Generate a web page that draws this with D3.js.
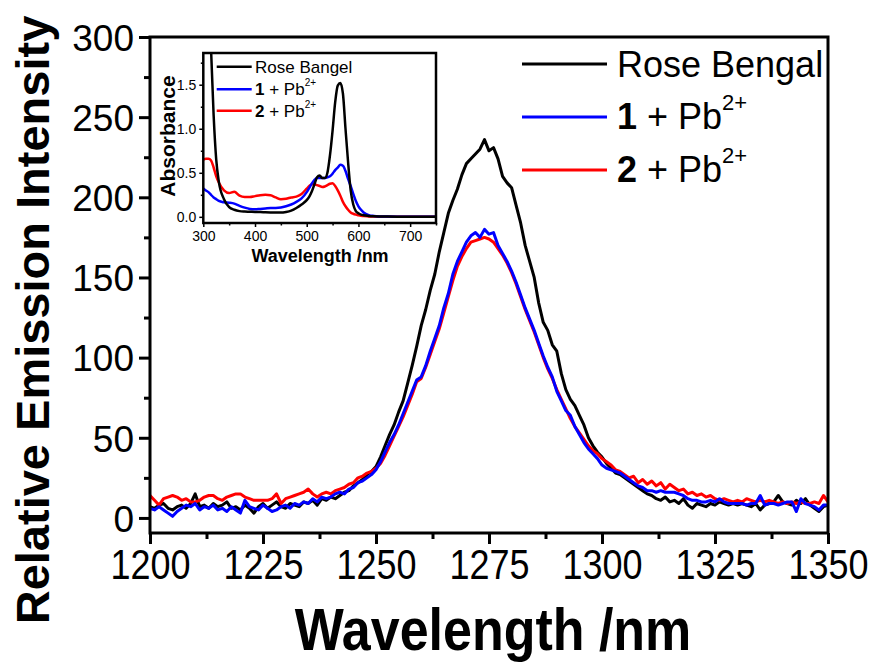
<!DOCTYPE html>
<html>
<head>
<meta charset="utf-8">
<script src="https://cdn.jsdelivr.net/npm/d3@7/dist/d3.min.js"></script>
<style>
  html, body { margin: 0; padding: 0; background: #fff; }
  svg { display: block; font-family: "Liberation Sans", Arial, sans-serif; }
</style>
</head>
<body>
<svg id="chart" width="879" height="663"></svg>
<script>
// ---- Emission spectra (1 nm steps, 1200–1350 nm) ----
const emissionWavelengths = d3.range(1200, 1351, 1);

const roseBengal = [
  7, 6, 8, 9, 6, 5, 7, 8, 6, 9,
  15, 7, 8, 6, 9, 7, 8, 10, 6, 7,
  5, 8, 6, 3, 7, 9, 6, 8, 10, 7,
  6, 9, 8, 7, 10, 9, 11, 8, 12, 11,
  13, 12, 14, 16, 17, 20, 22, 24, 27, 29,
  32, 38, 45, 52, 58, 66, 73, 84, 95, 107,
  120, 130, 142, 152, 166, 178, 190, 198, 205, 214,
  221, 224, 227, 230, 236, 229, 231, 224, 213, 209,
  206, 195, 184, 170, 160, 150, 134, 122, 117, 108,
  104, 90, 80, 74, 70, 64, 58, 50, 45, 41,
  38, 34, 31, 28, 27, 25, 23, 21, 19, 17,
  15, 14, 12, 11, 13, 10, 11, 9, 12, 8,
  6, 9, 8, 7, 9, 8, 10, 9, 8, 9,
  8, 9, 8, 7, 9, 5, 8, 9, 10, 14,
  10, 9, 8, 11, 9, 12, 8, 6, 4, 7,
  8
];

const compound1Pb = [
  6, 5, 7, 5, 3, 1, 4, 6, 8, 7,
  9, 5, 7, 6, 8, 5, 6, 4, 7, 5,
  3, 11, 7, 6, 5, 8, 6, 4, 5, 7,
  8, 6, 9, 8, 10, 9, 12, 10, 13, 12,
  13, 15, 16, 15, 18, 19, 22, 23, 25, 27,
  30, 35, 41, 47, 52, 58, 65, 72, 79, 86,
  88, 95, 104, 112, 120, 131, 140, 152, 160, 166,
  172, 176, 178, 175, 180, 177, 178, 170, 165, 160,
  154, 147, 139, 131, 124, 117, 109, 101, 94, 88,
  79, 73, 67, 64, 57, 52, 47, 43, 40, 37,
  33, 31, 30, 29, 28, 26, 24, 22, 20, 19,
  17, 17, 16, 17, 16, 16, 16, 15, 14, 12,
  11, 11, 10, 10, 11, 10, 12, 10, 9, 9,
  9, 9, 8, 9, 9, 14, 8, 9, 9, 8,
  9, 10, 10, 4, 12, 9, 8, 7, 5, 8,
  8
];

const compound2Pb = [
  14, 11, 8, 12, 13, 14, 13, 11, 12, 10,
  10, 11, 13, 14, 14, 12, 11, 13, 14, 15,
  15, 13, 12, 11, 11, 11, 11, 12, 15, 9,
  12, 13, 14, 15, 16, 18, 15, 13, 15, 16,
  15, 17, 18, 19, 21, 22, 25, 26, 28, 29,
  31, 34, 39, 45, 51, 57, 63, 70, 77, 85,
  87, 94, 102, 110, 118, 128, 138, 148, 157, 163,
  168, 172, 173, 174, 175, 174, 172, 168, 164, 159,
  153, 146, 138, 130, 123, 116, 108, 100, 93, 87,
  80, 74, 68, 62, 57, 53, 49, 45, 42, 40,
  37, 35, 33, 30, 29, 27, 25, 26, 22, 24,
  21, 23, 20, 22, 18, 21, 19, 17, 18, 15,
  16, 14, 15, 13, 14, 12, 11, 12, 11, 10,
  11, 10, 12, 11, 10, 11, 10, 11, 10, 9,
  10, 9, 10, 9, 10, 9, 9, 10, 9, 14,
  10
];

const mainXTicks = [1200, 1225, 1250, 1275, 1300, 1325, 1350];
const mainYTicks = [0, 50, 100, 150, 200, 250, 300];

// ---- Absorption spectra (inset) ----
const absWavelengths = [300, 305, 310, 315, 320, 325, 330, 340, 350, 360, 370, 380, 390, 400,
  410, 420, 430, 440, 450, 460, 470, 480, 490, 500, 505, 510, 515, 520, 525, 530, 535, 540,
  545, 550, 555, 560, 565, 570, 575, 580, 585, 590, 595, 600, 605, 610, 620, 630, 640, 650,
  675, 700, 725, 750];

const absRoseBengal = [4.0, 3.2, 2.5, 1.9, 1.15, 0.65, 0.4, 0.2, 0.11, 0.08, 0.065, 0.06, 0.058, 0.055,
  0.055, 0.052, 0.05, 0.048, 0.048, 0.055, 0.07, 0.1, 0.14, 0.19, 0.23, 0.29, 0.37, 0.45, 0.47, 0.44, 0.44, 0.5,
  0.7, 0.98, 1.3, 1.49, 1.52, 1.4, 1.0, 0.62, 0.3, 0.14, 0.065, 0.04, 0.025, 0.018, 0.01, 0.006, 0.004, 0.003,
  0.002, 0.001, 0.001, 0.001];

const abs1Pb = [0.32, 0.30, 0.28, 0.25, 0.22, 0.2, 0.18, 0.165, 0.16, 0.15, 0.125, 0.105, 0.09, 0.085,
  0.09, 0.095, 0.1, 0.1, 0.105, 0.12, 0.14, 0.17, 0.21, 0.28, 0.33, 0.38, 0.42, 0.44, 0.44, 0.44, 0.44, 0.45,
  0.46, 0.49, 0.53, 0.56, 0.59, 0.58, 0.52, 0.43, 0.35, 0.26, 0.18, 0.12, 0.08, 0.05, 0.02, 0.01, 0.005, 0.003,
  0.002, 0.001, 0.001, 0.001];

const abs2Pb = [0.65, 0.66, 0.66, 0.64, 0.56, 0.46, 0.39, 0.3, 0.27, 0.285, 0.24, 0.225, 0.225, 0.235,
  0.245, 0.25, 0.245, 0.22, 0.2, 0.205, 0.22, 0.23, 0.26, 0.32, 0.35, 0.37, 0.37, 0.36, 0.35, 0.34, 0.345, 0.36,
  0.375, 0.38, 0.35, 0.3, 0.24, 0.17, 0.12, 0.08, 0.05, 0.035, 0.025, 0.018, 0.012, 0.008, 0.005, 0.003, 0.002, 0.001,
  0.001, 0.001, 0.001, 0.001];

const insetXTicks = [300, 400, 500, 600, 700];
const insetYTicks = [0, 0.5, 1.0, 1.5];

const seriesNames = ["Rose Bengal", "1 + Pb2+", "2 + Pb2+"];
const seriesColors = ["#000000", "#0000ff", "#ff0000"];

// ---------------------------------------------------------------
const svg = d3.select("#chart");

const x = d3.scaleLinear().domain([1200, 1350]).range([150, 828]);
const y = d3.scaleLinear().domain([-9.4, 300]).range([533, 37]);

// text drawn slightly taller than wide, like the exported figure
function stretchedText(parent, px, py, k) {
  return parent.append("text").attr("transform", `translate(${px},${py}) scale(1,${k})`);
}

// clip region for the main plot
svg.append("defs").append("clipPath").attr("id", "mainClip")
  .append("rect").attr("x", 150).attr("y", 37).attr("width", 678).attr("height", 496);

// main data lines
const mainLine = d3.line()
  .x((d, i) => x(emissionWavelengths[i]))
  .y(d => y(d));

const mainSeries = [roseBengal, compound1Pb, compound2Pb];
// black first, then red, blue on top
[0, 2, 1].forEach(k => {
  svg.append("path")
    .attr("clip-path", "url(#mainClip)")
    .attr("d", mainLine(mainSeries[k]))
    .attr("fill", "none")
    .attr("stroke", seriesColors[k])
    .attr("stroke-width", 3)
    .attr("stroke-linejoin", "round");
});

// axes
const axisG = svg.append("g");
const xLabelK = 1.2;
const bottomMajor = d3.axisBottom(x).tickValues(mainXTicks).tickSize(11).tickSizeOuter(0).tickFormat(d3.format("d"));
const bottomMinor = d3.axisBottom(x).tickValues(d3.range(1212.5, 1350, 25)).tickSize(6).tickSizeOuter(0).tickFormat("");
const leftMajor = d3.axisLeft(y).tickValues(mainYTicks).tickSize(11).tickSizeOuter(0).tickPadding(5).tickFormat(d3.format("d"));
const leftMinor = d3.axisLeft(y).tickValues(d3.range(25, 300, 50)).tickSize(6).tickSizeOuter(0).tickFormat("");

function styleAxis(g) {
  g.select(".domain").remove();
  g.selectAll(".tick line").attr("stroke", "#000").attr("stroke-width", 3);
  g.selectAll(".tick text").attr("fill", "#000");
}

axisG.append("g").attr("transform", "translate(0,533)").call(bottomMinor).call(styleAxis);
axisG.append("g").attr("transform", "translate(0,533)").call(bottomMajor).call(styleAxis)
  .selectAll(".tick text")
  .attr("font-size", 36)
  .attr("dy", 0)
  .attr("y", 46 / xLabelK)
  .attr("transform", `scale(1,${xLabelK})`);
axisG.append("g").attr("transform", "translate(150,0)").call(leftMinor).call(styleAxis);
axisG.append("g").attr("transform", "translate(150,0)").call(leftMajor).call(styleAxis)
  .selectAll(".tick text").attr("font-size", 37).attr("dy", "0.36em");

// frame
svg.append("rect")
  .attr("x", 150).attr("y", 37).attr("width", 678).attr("height", 496)
  .attr("fill", "none").attr("stroke", "#000").attr("stroke-width", 3);

// axis titles
stretchedText(svg, 493, 650, 1.15)
  .attr("text-anchor", "middle")
  .attr("font-size", 52).attr("font-weight", "bold")
  .text("Wavelength /nm");

svg.append("text")
  .attr("transform", "translate(49,320) rotate(-90)")
  .attr("text-anchor", "middle")
  .attr("font-size", 47).attr("font-weight", "bold")
  .text("Relative Emission Intensity");

// legend
const legend = svg.append("g");
const legendRows = [
  { y: 64, base: 77 },
  { y: 117, base: 129 },
  { y: 170, base: 182 }
];
legendRows.forEach((r, k) => {
  legend.append("line")
    .attr("x1", 522).attr("x2", 607).attr("y1", r.y).attr("y2", r.y)
    .attr("stroke", seriesColors[k]).attr("stroke-width", 3);
  const t = legend.append("text").attr("x", 617).attr("y", r.base).attr("font-size", 36);
  if (k === 0) {
    t.text(seriesNames[0]);
  } else {
    t.append("tspan").attr("font-weight", "bold").text(String(k));
    t.append("tspan").text(" + Pb");
    t.append("tspan").attr("font-size", 22).attr("dy", -19).text("2+");
  }
});

// ---- inset: absorption spectra ----
const ix = d3.scaleLinear().domain([300, 750]).range([203.3, 436]);
const iy = d3.scaleLinear().domain([-0.07, 1.86]).range([223, 53]);

const inset = svg.append("g");
inset.append("rect")
  .attr("x", 203.3).attr("y", 53).attr("width", 232.7).attr("height", 170)
  .attr("fill", "#fff");

svg.select("defs").append("clipPath").attr("id", "insetClip")
  .append("rect").attr("x", 203.3).attr("y", 53).attr("width", 232.7).attr("height", 170);

const insetLine = d3.line()
  .x((d, i) => ix(absWavelengths[i]))
  .y(d => iy(d))
  .curve(d3.curveMonotoneX);

const insetSeries = [absRoseBengal, abs1Pb, abs2Pb];
[2, 1, 0].forEach(k => {
  inset.append("path")
    .attr("clip-path", "url(#insetClip)")
    .attr("d", insetLine(insetSeries[k]))
    .attr("fill", "none")
    .attr("stroke", seriesColors[k])
    .attr("stroke-width", 2.5)
    .attr("stroke-linejoin", "round");
});

function styleInsetAxis(g) {
  g.select(".domain").remove();
  g.selectAll(".tick line").attr("stroke", "#000").attr("stroke-width", 1.5);
  g.selectAll(".tick text").attr("fill", "#000").attr("font-size", 14);
}

inset.append("g").attr("transform", "translate(0,223)")
  .call(d3.axisBottom(ix).tickValues(d3.range(350, 751, 100)).tickSize(2.5).tickSizeOuter(0).tickFormat(""))
  .call(styleInsetAxis);
inset.append("g").attr("transform", "translate(0,223)")
  .call(d3.axisBottom(ix).tickValues(insetXTicks).tickSize(4).tickSizeOuter(0).tickFormat(d3.format("d")))
  .call(styleInsetAxis)
  .selectAll(".tick text")
  .attr("dy", 0)
  .attr("y", 18);
inset.append("g").attr("transform", "translate(203.3,0)")
  .call(d3.axisLeft(iy).tickValues([0.25, 0.75, 1.25, 1.75]).tickSize(2.5).tickSizeOuter(0).tickFormat(""))
  .call(styleInsetAxis);
inset.append("g").attr("transform", "translate(203.3,0)")
  .call(d3.axisLeft(iy).tickValues(insetYTicks).tickSize(4).tickSizeOuter(0).tickPadding(3).tickFormat(d3.format(".1f")))
  .call(styleInsetAxis)
  .selectAll(".tick text").attr("dy", "0.36em");

inset.append("rect")
  .attr("x", 203.3).attr("y", 53).attr("width", 232.7).attr("height", 170)
  .attr("fill", "none").attr("stroke", "#000").attr("stroke-width", 2.5);

stretchedText(inset, 320, 262, 1.05)
  .attr("text-anchor", "middle")
  .attr("font-size", 18).attr("font-weight", "bold")
  .text("Wavelength /nm");

inset.append("text")
  .attr("transform", "translate(175,136) rotate(-90)")
  .attr("text-anchor", "middle")
  .attr("font-size", 21).attr("font-weight", "bold")
  .text("Absorbance");

// inset legend
const insetLegendRows = [
  { y: 66.7, base: 72.5 },
  { y: 89.3, base: 95 },
  { y: 110.7, base: 116.5 }
];
const insetNames = ["Rose Bangel", "1", "2"];
insetLegendRows.forEach((r, k) => {
  inset.append("line")
    .attr("x1", 216.7).attr("x2", 251.7).attr("y1", r.y).attr("y2", r.y)
    .attr("stroke", seriesColors[k]).attr("stroke-width", 2.5);
  const t = inset.append("text").attr("x", 255).attr("y", r.base).attr("font-size", 17);
  if (k === 0) {
    t.text(insetNames[0]);
  } else {
    t.append("tspan").attr("font-weight", "bold").text(insetNames[k]);
    t.append("tspan").text(" + Pb");
    t.append("tspan").attr("font-size", 10).attr("dy", -9).text("2+");
  }
});
</script>
</body>
</html>
